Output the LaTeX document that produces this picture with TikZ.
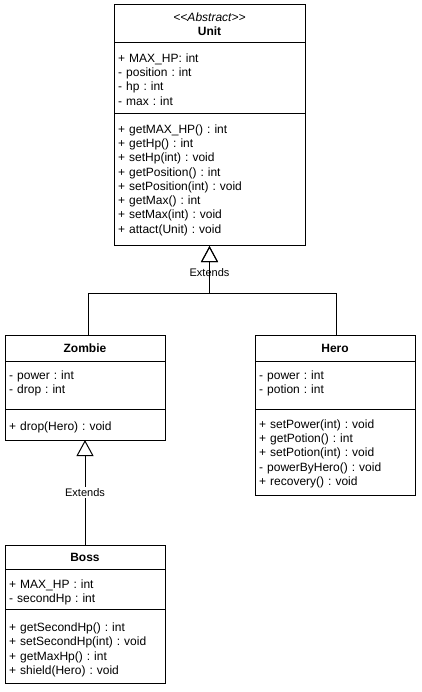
\documentclass[tikz,border=0pt]{standalone}
\usepackage{fontspec}
\setmainfont{Liberation Sans}
\usetikzlibrary{positioning,arrows.meta}
\frenchspacing

\begin{document}
\begin{tikzpicture}[x = 1pt, y = -1pt,
  every node/.style = {font = \fontsize{12}{14.3}\selectfont},
  part/.style = {draw, shape = rectangle, anchor = north, align = center, outer sep = 0pt, inner sep = 0pt, line width = 1pt},
  members/.style = {anchor = north west, align = left, text width = 170pt, text height = 9pt, inner sep = 0pt},
  extends/.style = {line width = 1pt, -{Triangle[open, length = 16pt, width = 17pt]}},
  extlabel/.style = {fill = white, inner sep = 1pt, font = \fontsize{11}{13}\selectfont}]
\useasboundingbox (0,0) rectangle (421,692);

\node[part, minimum width = 191pt, minimum height = 38pt] (unit) at (209.5,5) {\textit{<{}<Abstract>{}>}\\\textbf{Unit}};
\node[part, minimum width = 191pt, minimum height = 71pt, below = 0pt of unit] (unitattr) {};
\node[part, minimum width = 191pt, minimum height = 132pt, below = 0pt of unitattr] (unitops) {};
\node[members, below right = 10pt and 4pt of unitattr.north west] (unitattrtext) {+ MAX\_HP: int\\- position : int\\- hp : int\\- max : int};
\node[members, below right = 10pt and 4pt of unitops.north west] (unitopstext) {+ getMAX\_HP() : int\\+ getHp() : int\\+ setHp(int) : void\\+ getPosition() : int\\+ setPosition(int) : void\\+ getMax() : int\\+ setMax(int) : void\\+ attact(Unit) : void};

\node[part, minimum width = 160pt, minimum height = 26pt] (zombie) at (85,335) {\textbf{Zombie}};
\node[part, minimum width = 160pt, minimum height = 48pt, below = 0pt of zombie] (zombieattr) {};
\node[part, minimum width = 160pt, minimum height = 31pt, below = 0pt of zombieattr] (zombieops) {};
\node[members, below right = 9.3pt and 4pt of zombieattr.north west] (zombieattrtext) {- power : int\\- drop : int};
\node[members, below right = 12pt and 4pt of zombieops.north west] (zombieopstext) {+ drop(Hero) : void};

\node[part, minimum width = 160pt, minimum height = 26pt] (hero) at (335,335) {\textbf{Hero}};
\node[part, minimum width = 160pt, minimum height = 48pt, below = 0pt of hero] (heroattr) {};
\node[part, minimum width = 160pt, minimum height = 86pt, below = 0pt of heroattr] (heroops) {};
\node[members, below right = 9.3pt and 4pt of heroattr.north west] (heroattrtext) {- power : int\\- potion : int};
\node[members, below right = 10pt and 4pt of heroops.north west] (heroopstext) {+ setPower(int) : void\\+ getPotion() : int\\+ setPotion(int) : void\\- powerByHero() : void\\+ recovery() : void};

\node[part, minimum width = 160pt, minimum height = 24pt] (boss) at (85,545) {\textbf{Boss}};
\node[part, minimum width = 160pt, minimum height = 40pt, below = 0pt of boss] (bossattr) {};
\node[part, minimum width = 160pt, minimum height = 74pt, below = 0pt of bossattr] (bossops) {};
\node[members, below right = 10pt and 4pt of bossattr.north west] (bossattrtext) {+ MAX\_HP : int\\- secondHp : int};
\node[members, below right = 13.3pt and 4pt of bossops.north west] (bossopstext) {+ getSecondHp() : int\\+ setSecondHp(int) : void\\+ getMaxHp() : int\\+ shield(Hero) : void};

\draw[extends] ([xshift = 3pt]zombie.north) -- ++(0,-42) -| node[extlabel, pos = 0.72] (extunit) {Extends} (unitops.south);
\draw[extends] ([xshift = 1pt]hero.north) -- ++(0,-42) -| (unitops.south);
\draw[extends] (boss.north) -- node[extlabel] (extzombie) {Extends} (zombieops.south);
\end{tikzpicture}
\end{document}
